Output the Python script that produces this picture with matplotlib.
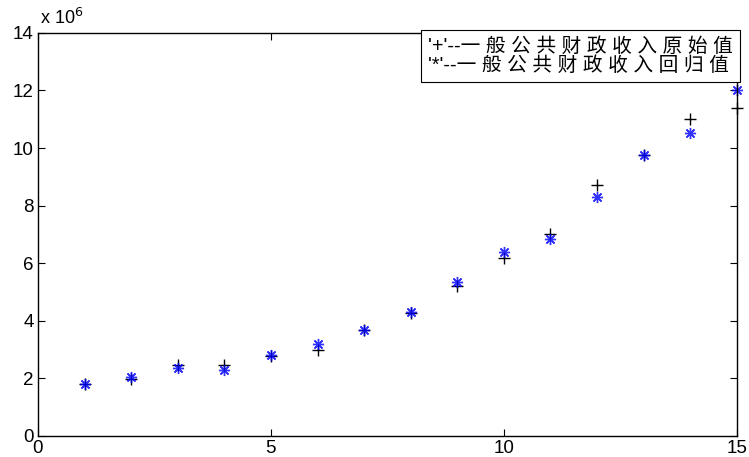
import matplotlib
matplotlib.use("Agg")
import matplotlib.pyplot as plt

plt.rcParams["font.family"] = ["Liberation Sans", "Noto Sans CJK SC", "DejaVu Sans"]

# fiscal revenue, units of 1e6
years = list(range(1, 16))
original = [1.81, 1.98, 2.45, 2.46, 2.78, 2.98, 3.69, 4.28, 5.21, 6.19, 7.00, 8.73, 9.76, 11.02, 11.40]
fitted = [1.81, 2.06, 2.36, 2.30, 2.80, 3.20, 3.69, 4.30, 5.36, 6.40, 6.84, 8.31, 9.76, 10.53, 12.00]
legend_lines = ["'+'--一 般 公 共 财 政 收 入 原 始 值",
                "'*'--一 般 公 共 财 政 收 入 回 归 值"]

fig = plt.figure(figsize=(7.49, 4.57), dpi=100)
ax = fig.add_axes([0.0507, 0.046, 0.933, 0.882])

ax.plot(years, original, linestyle="none", marker="+", color="black", ms=9, mew=1.0, clip_on=False)
ax.plot(years, fitted, linestyle="none", marker=(8, 2, 0), color="#0000ff", ms=8, mew=1.0,
        alpha=0.8, clip_on=False)

ax.set_xlim(0, 15)
ax.set_ylim(0, 14)
ax.set_xticks([0, 5, 10, 15])
ax.set_yticks(range(0, 15, 2))
ax.tick_params(direction="in", top=True, right=True, labelsize=13.5, length=5, width=0.8, pad=3)
for s in ax.spines.values():
    s.set_linewidth(1.0)
ax.text(0.003, 1.012, r"x 10$^6$", transform=ax.transAxes, fontsize=13, ha="left", va="bottom")

ax.text(0.994, 0.99, "\n".join(legend_lines), transform=ax.transAxes, ha="right", va="top",
        multialignment="left", fontsize=14.2, linespacing=1.0,
        bbox=dict(boxstyle="square,pad=0.35", facecolor="white", edgecolor="black", linewidth=0.8))

fig.savefig("out.png", dpi=100)
